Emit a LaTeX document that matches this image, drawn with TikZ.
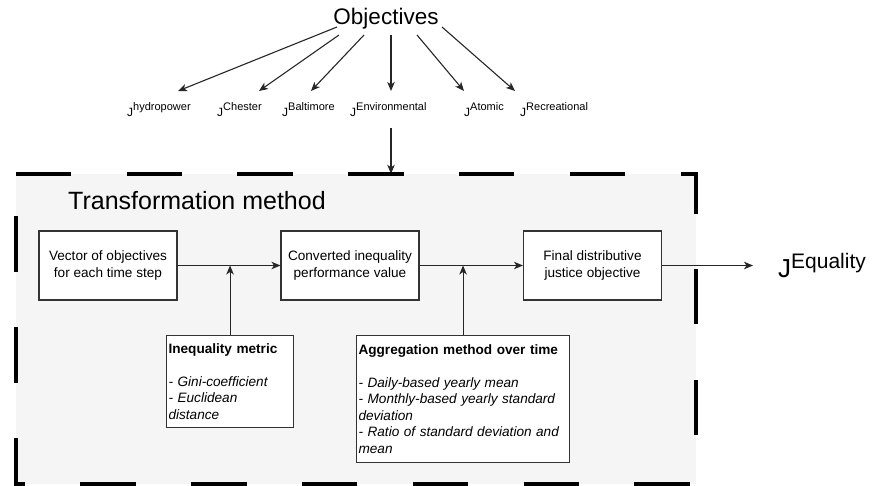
\documentclass[tikz,border=0pt]{standalone}
\usepackage{fontspec}
\setmainfont{Liberation Sans}
\usetikzlibrary{arrows.meta}
\begin{document}
\begin{tikzpicture}[x=1pt,y=-1pt,
  arr/.style={draw=black!85, line width=1.1pt, -{Stealth[length=9pt,width=7.5pt,inset=2.5pt]}},
  stepbox/.style={draw=black!80, line width=1.1pt, fill=white, minimum width=138pt,
    minimum height=69pt, align=center, inner sep=0pt, font=\fontsize{13.6}{17}\selectfont},
  notebox/.style={draw=black!80, line width=1.1pt, fill=white, align=left, anchor=north west,
    inner xsep=2pt, inner ysep=0pt, font=\fontsize{13.6}{16.5}\selectfont},
  objlabel/.style={anchor=base west, inner sep=0pt, font=\fontsize{12}{14}\selectfont},
  region/.style={draw=black, line width=3.6pt, dash pattern=on 55.4pt off 55.4pt, line cap=butt},
]
\useasboundingbox (0,0) rectangle (872,486);

% objectives and the individual objective functions
\node[anchor=base, inner sep=0pt, font=\fontsize{22.5}{26}\selectfont] (obj) at (386,25) {Objectives};
\newcommand{\objf}[1]{J\raisebox{6pt}{\fontsize{11}{13}\selectfont #1}}
\node[objlabel] (l1) at (127,117) {\objf{hydropower}};
\node[objlabel] (l2) at (217,117) {\objf{Chester}};
\node[objlabel] (l3) at (282,117) {\objf{Baltimore}};
\node[objlabel] (l4) at (350,117) {\objf{Environmental}};
\node[objlabel] (l5) at (464,117) {\objf{Atomic}};
\node[objlabel] (l6) at (520,117) {\objf{Recreational}};

\coordinate (s1) at (337,27);  \coordinate (t1) at (178,91);
\coordinate (s2) at (339,35);  \coordinate (t2) at (259,91);
\coordinate (s3) at (364,35);  \coordinate (t3) at (311,91);
\coordinate (s4) at (391,35);  \coordinate (t4) at (391,91);
\coordinate (s5) at (417,35);  \coordinate (t5) at (464,91);
\coordinate (s6) at (442,27);  \coordinate (t6) at (515,91);
\foreach \i in {1,...,6} { \draw[arr] (s\i) -- (t\i); }

% transformation region
\node[fill=black!4, minimum width=680pt, minimum height=310pt, inner sep=0pt] (tm) at (356,329) {};
\node[anchor=base west, inner sep=0pt, font=\fontsize{25}{30}\selectfont] (tmtitle) at (68,210) {Transformation method};

\coordinate (envout) at (391,128);
\draw[arr] (envout) -- (envout |- tm.north);

% processing steps
\node[stepbox] (b1) at (108,265.5) {Vector of objectives\\for each time step};
\node[stepbox] (b2) at (350,265.5) {Converted inequality\\performance value};
\node[stepbox] (b3) at (592.5,265.5) {Final distributive\\justice objective};

\node[notebox, text width=123pt, minimum height=92pt] (m1) at (166,335)
  {\textbf{Inequality metric}\\[16.5pt]
   \textit{- Gini-coefficient}\\
   \textit{- Euclidean}\\
   \textit{distance}};
\node[notebox, text width=209pt, minimum height=127pt] (m2) at (356,335)
  {\textbf{Aggregation method over time}\\[16.5pt]
   \textit{- Daily-based yearly mean}\\
   \textit{- Monthly-based yearly standard}\\
   \textit{deviation}\\
   \textit{- Ratio of standard deviation and}\\
   \textit{mean}};

\node[anchor=base west, inner sep=0pt, font=\fontsize{26}{30}\selectfont] (jeq) at (778,277)
  {J\raisebox{9pt}{\fontsize{21}{25}\selectfont Equality}};
\coordinate (eqin) at (753,265.5);

\draw[arr] (b1) -- (b2);
\draw[arr] (b2) -- (b3);
\draw[arr] (b3) -- (eqin);
\draw[arr] (m1.north) -- (m1.north |- b1.east);
\draw[arr] (m2.north) -- (m2.north |- b2.east);

% dashed outline, drawn clockwise from the top-left corner
\draw[region] (tm.north west) -- (tm.north east) -- (tm.south east) -- (tm.south west) -- cycle;
\end{tikzpicture}
\end{document}
